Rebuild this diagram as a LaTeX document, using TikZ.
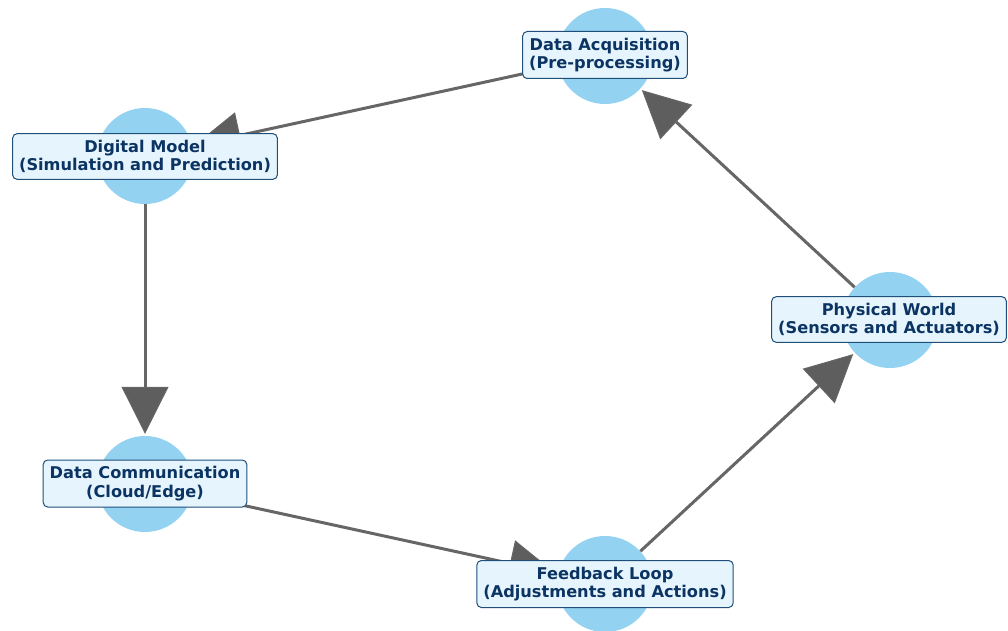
\documentclass[tikz,border=0pt]{standalone}
\usepackage{fontspec}
\setmainfont{DejaVu Sans}
\usetikzlibrary{arrows.meta}
\definecolor{circfill}{HTML}{93D2F0}
\definecolor{boxfill}{HTML}{E6F5FD}
\definecolor{boxline}{HTML}{1F4E79}
\definecolor{txt}{HTML}{0B3463}
\definecolor{edgec}{HTML}{666666}
\definecolor{headc}{HTML}{5E5E5E}
\tikzset{
  circ/.style={circle, fill=circfill, draw=none, minimum size=96pt, inner sep=0pt},
  lbl/.style={draw=boxline, fill=boxfill, rounded corners=4.5pt, line width=1pt,
    text=txt, font=\fontsize{16.2pt}{18.8pt}\selectfont\bfseries, align=center,
    inner xsep=6.5pt, inner ysep=6.2pt},
  edge/.style={draw=edgec, line width=3pt,
    -{Triangle[length=47pt,width=47pt,fill=headc,line width=1pt]}, shorten >=2pt},
}
\begin{document}
\begin{tikzpicture}[x=1pt,y=1pt]
\useasboundingbox (0,0) rectangle (1008,630);
% circles
\node[circ] (cda) at (605,574) {};
\node[circ] (cdm) at (145,474) {};
\node[circ] (cdc) at (145,146) {};
\node[circ] (cfl) at (605,46) {};
\node[circ] (cpw) at (890,310) {};
% edges
\draw[edge] (cpw) -- (cda);
\draw[edge] (cda) -- (cdm);
\draw[edge] (cdm) -- (cdc);
\draw[edge] (cdc) -- (cfl);
\draw[edge] (cfl) -- (cpw);
% labels
\node[lbl] (lda) at (605,575) {Data Acquisition\\(Pre-processing)};
\node[lbl] (ldm) at (145,473.5) {Digital Model\\(Simulation and Prediction)};
\node[lbl] (ldc) at (145,146.5) {Data Communication\\(Cloud/Edge)};
\node[lbl] (lfl) at (605,46) {Feedback Loop\\(Adjustments and Actions)};
\node[lbl] (lpw) at (889,310.5) {Physical World\\(Sensors and Actuators)};
\end{tikzpicture}
\end{document}
